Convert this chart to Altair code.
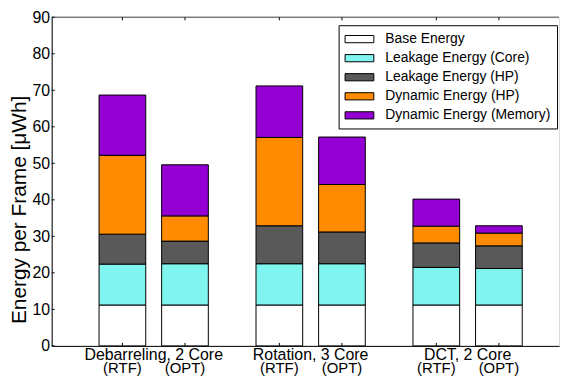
import altair as alt
import pandas as pd

groups = ["Debarreling, 2 Core", "Rotation, 3 Core", "DCT, 2 Core"]
variants = ["RTF", "OPT"]
components = [
    "Base Energy",
    "Leakage Energy (Core)",
    "Leakage Energy (HP)",
    "Dynamic Energy (HP)",
    "Dynamic Energy (Memory)",
]
colors = ["#ffffff", "#80f5f0", "#595959", "#ff8c00", "#9400d3"]

# values per bar, order: Deb RTF, Deb OPT, Rot RTF, Rot OPT, DCT RTF, DCT OPT
base_energy = [11.2, 11.2, 11.2, 11.2, 11.2, 11.2]
leak_core = [11.2, 11.3, 11.3, 11.3, 10.3, 10.0]
leak_hp = [8.2, 6.2, 10.4, 8.7, 6.7, 6.2]
dyn_hp = [21.6, 6.9, 24.2, 13.0, 4.6, 3.5]
dyn_mem = [16.5, 14.0, 14.1, 13.0, 7.4, 2.0]

y_ticks = [0, 10, 20, 30, 40, 50, 60, 70, 80, 90]

series = [base_energy, leak_core, leak_hp, dyn_hp, dyn_mem]
bar_groups = [g for g in groups for _ in variants]
bar_variants = [v for _ in groups for v in variants]

rows = []
for ci, (comp, vals) in enumerate(zip(components, series)):
    for g, v, val in zip(bar_groups, bar_variants, vals):
        rows.append({"group": g, "variant": v, "component": comp,
                     "value": val, "order": ci})
df = pd.DataFrame(rows)
bars_df = pd.DataFrame({"group": bar_groups, "variant": bar_variants,
                        "label": ["(" + v + ")" for v in bar_variants]})
ticks_df = pd.DataFrame({"value": y_ticks})
one_df = pd.DataFrame({"a": [0]})

W, H = 511, 331
FONT = "Liberation Sans"

x_enc = alt.X("group:N", sort=groups,
              scale=alt.Scale(paddingInner=0.3038, paddingOuter=0.268, align=0.563),
              axis=alt.Axis(title=None, labelAngle=0, labelFontSize=16,
                            labelColor="black", ticks=False, labelPadding=1,
                            domainColor="black", domainWidth=1))
xo_enc = alt.XOffset("variant:N", sort=variants,
                     scale=alt.Scale(paddingInner=0.254, paddingOuter=0))

y_scale = alt.Scale(domain=[0, 90], nice=False)
y_axis = alt.Axis(title="Energy per Frame [μWh]", values=y_ticks,
                  grid=False, ticks=False, labelFontSize=16,
                  labelColor="black", labelPadding=2, labelOverlap=False,
                  titleFontSize=21, titleFontWeight="normal",
                  titleColor="black", titlePadding=3, titleY=H / 2 + 28,
                  domainColor="black", domainWidth=1)

bars = alt.Chart(df).mark_bar(stroke="black", strokeWidth=1).encode(
    x=x_enc,
    xOffset=xo_enc,
    y=alt.Y("value:Q", stack="zero", scale=y_scale, axis=y_axis),
    color=alt.Color("component:N", sort=components,
                    scale=alt.Scale(domain=components, range=colors),
                    legend=alt.Legend(
                        title=None, orient="none", legendX=289, legendY=8,
                        strokeColor="black", fillColor="white", padding=6,
                        symbolType="M-2,-0.5L2,-0.5L2,0.5L-2,0.5Z",
                        symbolSize=210, symbolOffset=7, symbolStrokeColor="black",
                        symbolStrokeWidth=1, labelFontSize=14, labelLimit=300,
                        labelColor="black", labelOffset=18, rowPadding=4.2)),
    order=alt.Order("order:Q"),
)

sub_labels = alt.Chart(bars_df).mark_text(
    fontSize=15, baseline="middle", align="center", color="black", font=FONT
).encode(
    x=alt.X("group:N", sort=groups),
    xOffset=alt.XOffset("variant:N", sort=variants),
    y=alt.value(H + 22),
    text="label:N",
)

bottom_ticks = alt.Chart(bars_df).mark_rule(color="black", strokeWidth=1).encode(
    x=alt.X("group:N", sort=groups),
    xOffset=alt.XOffset("variant:N", sort=variants),
    y=alt.value(H), y2=alt.value(H - 3),
)
top_ticks = alt.Chart(bars_df).mark_rule(color="black", strokeWidth=1).encode(
    x=alt.X("group:N", sort=groups),
    xOffset=alt.XOffset("variant:N", sort=variants),
    y=alt.value(0), y2=alt.value(3),
)
left_ticks = alt.Chart(ticks_df).mark_rule(color="black", strokeWidth=1).encode(
    y=alt.Y("value:Q", scale=y_scale, axis=y_axis),
    x=alt.value(0), x2=alt.value(3),
)
top_line = alt.Chart(one_df).mark_rule(color="#808080", strokeWidth=1.5).encode(
    x=alt.value(0), x2=alt.value(W), y=alt.value(0),
)

chart = alt.layer(bars, top_line, top_ticks, bottom_ticks, left_ticks, sub_labels).properties(
    width=W, height=H,
    padding={"left": 0, "top": 0, "right": 0, "bottom": 0},
).configure_view(stroke=None).configure(font=FONT)

chart.save("out.html", embed_options={"renderer": "svg", "actions": False})
